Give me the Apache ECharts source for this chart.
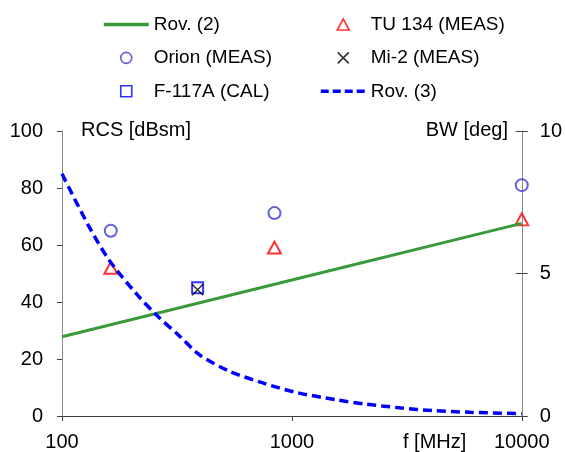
<!DOCTYPE html>
<html>
<head>
<meta charset="UTF-8">
<title>RCS / BW</title>
<style>
  html, body { margin: 0; padding: 0; background: #fff; }
  #main { width: 565px; height: 452px; }
</style>
</head>
<body>
<div id="main"></div>
<script src="https://cdn.jsdelivr.net/npm/echarts@6/dist/echarts.min.js"></script>
<script>
// values
var orionF = [163, 840, 10000];
var orionRcs = [65, 71.2, 81];

var tuF = [163, 840, 10000];
var tuRcs = [52, 59.1, 69];

var f117F = [389];
var f117Rcs = [45];

var mi2F = [389];
var mi2Rcs = [44.3];

var rov2F = [100, 1000, 10000];
var rov2Rcs = [27.8, 47.7, 67.6];

var rov3F = [100, 130, 161, 210, 257, 325, 396, 535, 747, 1040, 1560, 2090, 3000, 4090, 6000, 10000];
var rov3Bw = [8.5, 6.7, 5.45, 4.3, 3.55, 2.8, 2.15, 1.57, 1.16, 0.83, 0.57, 0.42, 0.28, 0.19, 0.13, 0.08];

function pairs(xs, ys) {
  var out = [];
  for (var i = 0; i < xs.length; i++) out.push([xs[i], ys[i]]);
  return out;
}

var font = 'Liberation Sans, Arial, sans-serif';
var myChart = echarts.init(document.getElementById('main'));

var legendBase = {
  orient: 'vertical',
  top: 10,
  itemWidth: 45, itemHeight: 11, itemGap: 14.4,
  textStyle: { fontSize: 19, color: '#000', fontFamily: font },
  itemStyle: { borderWidth: 1.6 }
};

var option = {
  animation: false,
  textStyle: { fontFamily: font },
  grid: { left: 62, right: 42, top: 131, bottom: 36, containLabel: false },
  legend: [
    Object.assign({}, legendBase, {
      left: 97,
      data: [
        { name: 'Rov. (2)', itemStyle: { opacity: 0 }, lineStyle: { width: 3.5 } },
        'Orion (MEAS)', 'F-117A (CAL)'
      ]
    }),
    Object.assign({}, legendBase, {
      left: 314,
      data: [
        'TU 134 (MEAS)', 'Mi-2 (MEAS)',
        { name: 'Rov. (3)', itemStyle: { opacity: 0 }, lineStyle: { width: 3.5, type: [8, 4] } }
      ]
    })
  ],
  xAxis: {
    type: 'log', logBase: 10, min: 100, max: 10000,
    axisLine: { lineStyle: { color: '#404040', width: 1 } },
    axisTick: { length: 5, lineStyle: { color: '#404040' } },
    minorTick: { show: false },
    splitLine: { show: false },
    axisLabel: {
      fontSize: 20, color: '#000', margin: 16, fontFamily: font,
      formatter: function (v) { return String(Math.round(v)); }
    }
  },
  yAxis: [{
    type: 'value', min: 0, max: 100, interval: 20,
    axisLine: { show: true, onZero: false, lineStyle: { color: '#8a8a8a' } },
    axisTick: { show: true, length: 5, lineStyle: { color: '#404040' } },
    splitLine: { show: false },
    axisLabel: { fontSize: 20, color: '#000', margin: 19, fontFamily: font }
  }, {
    type: 'value', min: 0, max: 10, interval: 5, position: 'right',
    axisLine: { show: true, onZero: false, lineStyle: { color: '#8a8a8a' } },
    axisTick: { show: true, length: 6, lineStyle: { color: '#404040' } },
    splitLine: { show: false },
    axisLabel: { fontSize: 20, color: '#000', margin: 18, fontFamily: font }
  }, {
    // inner half of the crossing ticks on the right axis
    type: 'value', min: 0, max: 10, interval: 5, position: 'right',
    axisLine: { show: false },
    axisTick: { show: true, inside: true, length: 6, lineStyle: { color: '#404040' } },
    splitLine: { show: false },
    axisLabel: { show: false }
  }],
  graphic: [
    { type: 'text', left: 81, top: 120, style: { text: 'RCS [dBsm]', font: '20px ' + font, fill: '#000' } },
    { type: 'text', right: 57, top: 120, style: { text: 'BW [deg]', font: '20px ' + font, fill: '#000' } },
    { type: 'text', left: 403, top: 432, style: { text: 'f [MHz]', font: '20px ' + font, fill: '#000' } }
  ],
  series: [{
    name: 'Rov. (2)', type: 'line', yAxisIndex: 0,
    symbol: 'none',
    lineStyle: { color: '#3a9a3a', width: 3 },
    itemStyle: { color: '#3a9a3a' },
    data: pairs(rov2F, rov2Rcs)
  }, {
    name: 'Orion (MEAS)', type: 'scatter', yAxisIndex: 0,
    symbol: 'circle', symbolSize: 12,
    itemStyle: { color: 'transparent', borderColor: '#3b3bcc', borderWidth: 2 },
    data: pairs(orionF, orionRcs)
  }, {
    name: 'F-117A (CAL)', type: 'scatter', yAxisIndex: 0,
    symbol: 'path://M0,0L12,0L12,12L0,12Z', symbolSize: 11,
    itemStyle: { color: 'transparent', borderColor: '#0000ff', borderWidth: 2 },
    data: pairs(f117F, f117Rcs)
  }, {
    name: 'TU 134 (MEAS)', type: 'scatter', yAxisIndex: 0,
    symbol: 'path://M6,0L12,11L0,11Z', symbolSize: [13, 12],
    itemStyle: { color: 'transparent', borderColor: '#ff0000', borderWidth: 2 },
    data: pairs(tuF, tuRcs)
  }, {
    name: 'Mi-2 (MEAS)', type: 'scatter', yAxisIndex: 0,
    symbol: 'path://M0,0L12,12M12,0L0,12', symbolSize: 11,
    itemStyle: { color: 'transparent', borderColor: '#000000', borderWidth: 1.6 },
    data: pairs(mi2F, mi2Rcs)
  }, {
    name: 'Rov. (3)', type: 'line', yAxisIndex: 1,
    symbol: 'none', smooth: 0.3,
    lineStyle: { color: '#0000ff', width: 3.5, type: [9, 5] },
    itemStyle: { color: '#0000ff' },
    data: pairs(rov3F, rov3Bw)
  }]
};

myChart.setOption(option);
</script>
</body>
</html>
